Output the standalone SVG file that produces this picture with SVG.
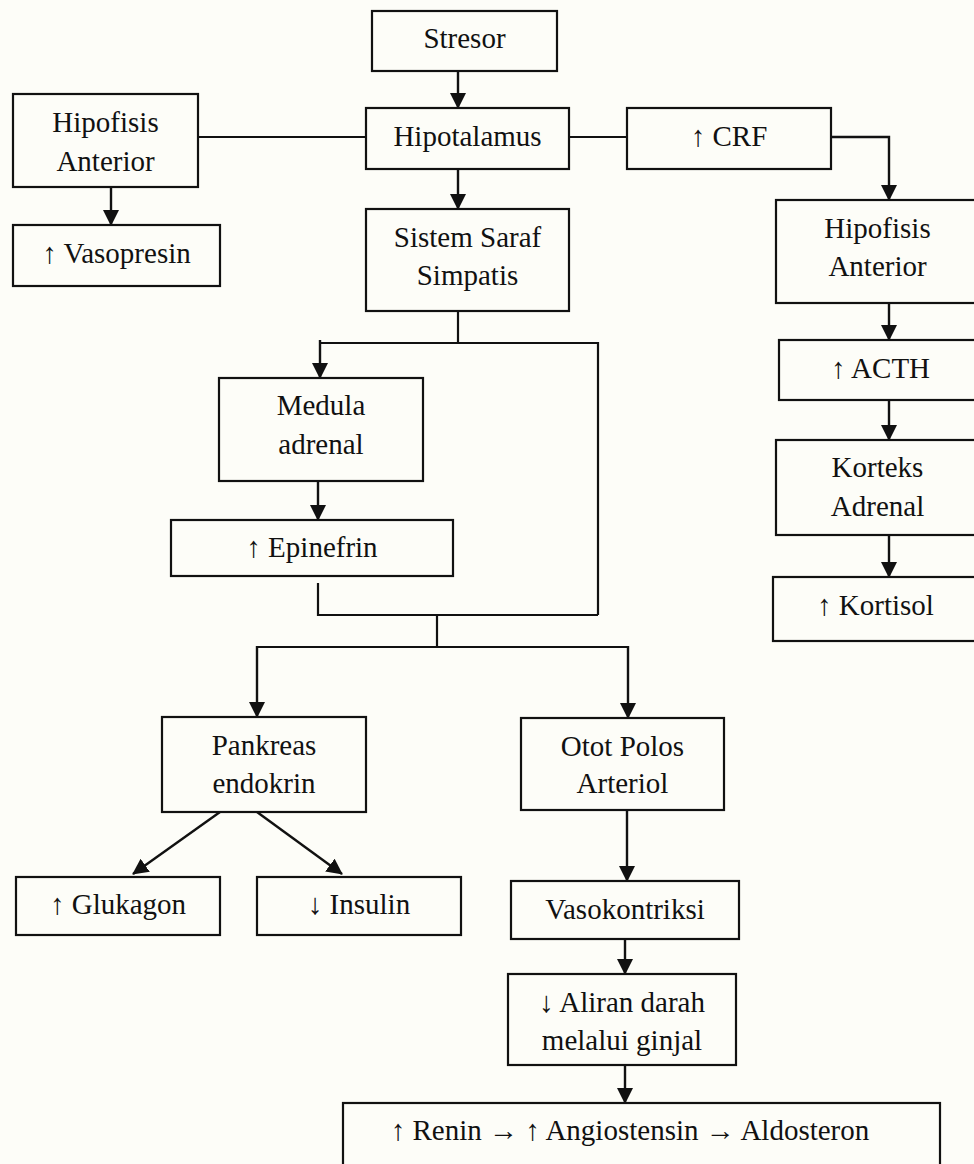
<svg xmlns="http://www.w3.org/2000/svg" width="974" height="1164" viewBox="0 0 974 1164">
  <style>
    .box { fill: none; stroke: #111; stroke-width: 2.2; }
    .lbl { font-family: "Liberation Serif", "Times New Roman", serif; font-size: 29px; fill: #111; text-anchor: middle; }
    .wire { fill: none; stroke: #111; stroke-width: 2.2; }
    .arrow { fill: none; stroke: #111; stroke-width: 2.4; marker-end: url(#head); }
  </style>
  <defs>
    <marker id="head" markerUnits="userSpaceOnUse" markerWidth="16" markerHeight="16" refX="15" refY="8" orient="auto">
      <path d="M0,0 L16,8 L0,16 z" fill="#111"/>
    </marker>
  </defs>

  <rect x="0" y="0" width="974" height="1164" fill="#fdfdf8"/>

  <!-- connectors -->
  <g id="connectors">
    <line class="arrow" x1="458" y1="71" x2="458" y2="108"/>
    <line class="wire" x1="198" y1="137" x2="366" y2="137"/>
    <line class="arrow" x1="111" y1="187" x2="111" y2="225"/>
    <line class="arrow" x1="458" y1="170" x2="458" y2="209"/>
    <line class="wire" x1="569" y1="137" x2="627" y2="137"/>
    <polyline class="arrow" points="831,137 889,137 889,200"/>
    <line class="arrow" x1="889" y1="303" x2="889" y2="340"/>
    <line class="arrow" x1="889" y1="400" x2="889" y2="440"/>
    <line class="arrow" x1="889" y1="535" x2="889" y2="577"/>
    <!-- sympathetic split -->
    <line class="wire" x1="458" y1="311" x2="458" y2="343"/>
    <polyline class="wire" points="320,343 598,343 598,615"/>
    <line class="arrow" x1="320" y1="340" x2="320" y2="378"/>
    <line class="arrow" x1="318" y1="481" x2="318" y2="520"/>
    <polyline class="wire" points="318,583 318,615 598,615"/>
    <line class="wire" x1="437" y1="615" x2="437" y2="647"/>
    <line class="wire" x1="257" y1="647" x2="628" y2="647"/>
    <line class="arrow" x1="257" y1="646" x2="257" y2="717"/>
    <line class="arrow" x1="628" y1="646" x2="628" y2="718"/>
    <!-- pancreas outputs -->
    <line class="arrow" x1="220" y1="812" x2="133" y2="874"/>
    <line class="arrow" x1="257" y1="812" x2="342" y2="874"/>
    <!-- arteriole chain -->
    <line class="arrow" x1="627" y1="810" x2="627" y2="881"/>
    <line class="arrow" x1="625" y1="939" x2="625" y2="974"/>
    <line class="arrow" x1="625" y1="1065" x2="625" y2="1103"/>
  </g>

  <g id="stresor">
    <rect class="box" x="372" y="11" width="185" height="60"/>
    <text class="lbl" x="464.5" y="48">Stresor</text>
  </g>
  <g id="hipotalamus">
    <rect class="box" x="366" y="108" width="203" height="61"/>
    <text class="lbl" x="467.5" y="146">Hipotalamus</text>
  </g>
  <g id="hipofisis-kiri">
    <rect class="box" x="13" y="94" width="185" height="93"/>
    <text class="lbl" x="105.5" y="132">Hipofisis</text>
    <text class="lbl" x="105.5" y="171">Anterior</text>
  </g>
  <g id="vasopresin">
    <rect class="box" x="13" y="225" width="207" height="61"/>
    <text class="lbl" x="116.5" y="263">↑ Vasopresin</text>
  </g>
  <g id="crf">
    <rect class="box" x="627" y="108" width="204" height="61"/>
    <text class="lbl" x="729" y="146">↑ CRF</text>
  </g>
  <g id="sistem-saraf">
    <rect class="box" x="366" y="209" width="203" height="102"/>
    <text class="lbl" x="467.5" y="247">Sistem Saraf</text>
    <text class="lbl" x="467.5" y="285">Simpatis</text>
  </g>
  <g id="hipofisis-kanan">
    <rect class="box" x="776" y="200" width="204" height="103"/>
    <text class="lbl" x="877.5" y="238">Hipofisis</text>
    <text class="lbl" x="877.5" y="276">Anterior</text>
  </g>
  <g id="acth">
    <rect class="box" x="779" y="340" width="204" height="60"/>
    <text class="lbl" x="880.5" y="378">↑ ACTH</text>
  </g>
  <g id="korteks">
    <rect class="box" x="776" y="440" width="204" height="95"/>
    <text class="lbl" x="877.5" y="477">Korteks</text>
    <text class="lbl" x="877.5" y="516">Adrenal</text>
  </g>
  <g id="kortisol">
    <rect class="box" x="773" y="577" width="206" height="64"/>
    <text class="lbl" x="875.5" y="615">↑ Kortisol</text>
  </g>
  <g id="medula">
    <rect class="box" x="219" y="378" width="204" height="103"/>
    <text class="lbl" x="321" y="415">Medula</text>
    <text class="lbl" x="321" y="454">adrenal</text>
  </g>
  <g id="epinefrin">
    <rect class="box" x="171" y="520" width="282" height="56"/>
    <text class="lbl" x="312" y="557">↑ Epinefrin</text>
  </g>
  <g id="pankreas">
    <rect class="box" x="162" y="717" width="204" height="95"/>
    <text class="lbl" x="264" y="755">Pankreas</text>
    <text class="lbl" x="264" y="793">endokrin</text>
  </g>
  <g id="otot-polos">
    <rect class="box" x="521" y="718" width="203" height="92"/>
    <text class="lbl" x="622.5" y="756">Otot Polos</text>
    <text class="lbl" x="622.5" y="793">Arteriol</text>
  </g>
  <g id="glukagon">
    <rect class="box" x="16" y="877" width="204" height="58"/>
    <text class="lbl" x="118" y="914">↑ Glukagon</text>
  </g>
  <g id="insulin">
    <rect class="box" x="257" y="877" width="204" height="58"/>
    <text class="lbl" x="359" y="914">↓ Insulin</text>
  </g>
  <g id="vasokontriksi">
    <rect class="box" x="511" y="881" width="228" height="58"/>
    <text class="lbl" x="625" y="919">Vasokontriksi</text>
  </g>
  <g id="aliran-darah">
    <rect class="box" x="508" y="974" width="228" height="91"/>
    <text class="lbl" x="622" y="1012">↓ Aliran darah</text>
    <text class="lbl" x="622" y="1050">melalui ginjal</text>
  </g>
  <g id="renin">
    <rect class="box" x="343" y="1103" width="597" height="80"/>
    <text class="lbl" x="630" y="1140">↑ Renin → ↑ Angiostensin → Aldosteron</text>
  </g>
</svg>
